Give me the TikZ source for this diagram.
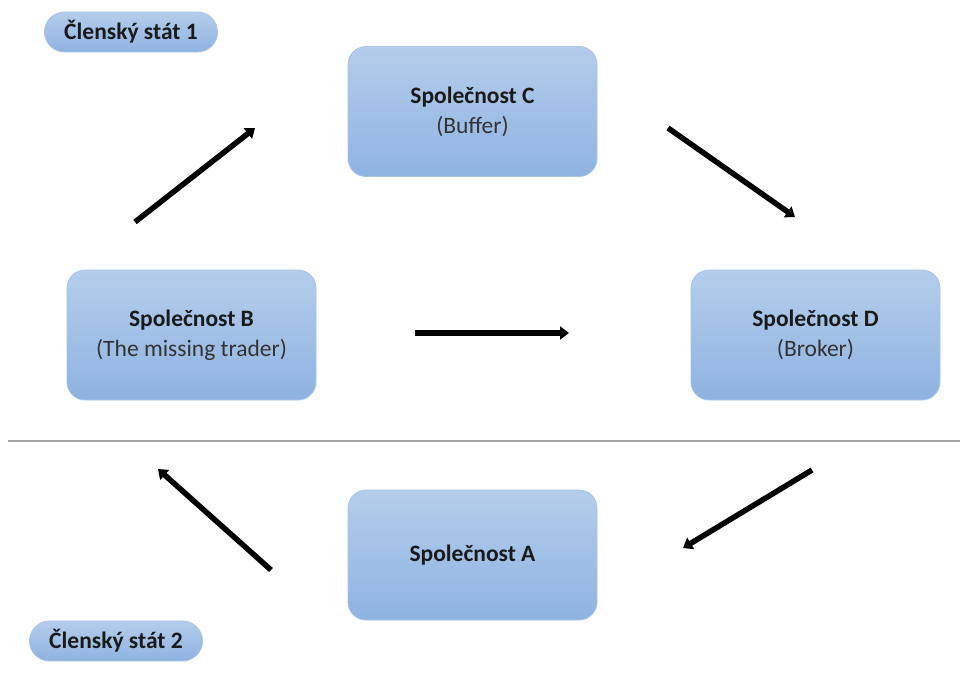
\documentclass[tikz,border=0pt]{standalone}
\usepackage{fontspec}
\setmainfont{Carlito}
\usetikzlibrary{arrows.meta}
\definecolor{boxtop}{HTML}{B5CDEB}
\definecolor{boxbot}{HTML}{8EB3E2}
\definecolor{boxedge}{HTML}{A9C3E6}
\definecolor{txtA}{HTML}{1A1A1A}
\definecolor{txtB}{HTML}{333333}
\begin{document}
\begin{tikzpicture}[x=1pt,y=-1pt,
  box/.style={rectangle, rounded corners=18pt, minimum width=249pt, minimum height=130pt,
    top color=boxtop, bottom color=boxbot, draw=boxedge, line width=0.8pt,
    align=center, inner sep=0pt, font=\fontsize{23.5}{30}\selectfont},
  pill/.style={rectangle, rounded corners=20pt, minimum width=173pt, minimum height=40pt,
    top color=boxtop, bottom color=boxbot, draw=boxedge, line width=0.8pt,
    inner sep=0pt, font=\fontsize{23.5}{26}\selectfont\bfseries, text=txtA},
  arr/.style={line width=5.5pt, -{Triangle[length=9pt,width=13pt]}}
]
\useasboundingbox (0,0) rectangle (960,678);
\fill[white] (0,0) rectangle (960,678);

\draw[line width=2pt, color=black!35] (8,441) -- (960,441);

\node[box] (C) at (472.5,111.5) {\textcolor{txtA}{\bfseries Společnost C}\\\textcolor{txtB}{(Buffer)}};
\node[box] (B) at (191.5,335) {\textcolor{txtA}{\bfseries Společnost B}\\\textcolor{txtB}{(The missing trader)}};
\node[box] (D) at (815.5,335) {\textcolor{txtA}{\bfseries Společnost D}\\\textcolor{txtB}{(Broker)}};
\node[box] (A) at (472.5,555) {\textcolor{txtA}{\bfseries Společnost A}};

\node[pill] (S1) at (131,32) {Členský stát 1};
\node[pill] (S2) at (116,641) {Členský stát 2};

\coordinate (bc1) at (135,222); \coordinate (bc2) at (255,128);
\coordinate (cd1) at (668,128); \coordinate (cd2) at (795,217);
\coordinate (bd1) at (415,333); \coordinate (bd2) at (569,333);
\coordinate (da1) at (812,470); \coordinate (da2) at (683,548);
\coordinate (ab1) at (271,570); \coordinate (ab2) at (158,469);

\draw[arr] (bc1) -- (bc2);
\draw[arr] (cd1) -- (cd2);
\draw[arr] (bd1) -- (bd2);
\draw[arr] (da1) -- (da2);
\draw[arr] (ab1) -- (ab2);
\end{tikzpicture}
\end{document}
